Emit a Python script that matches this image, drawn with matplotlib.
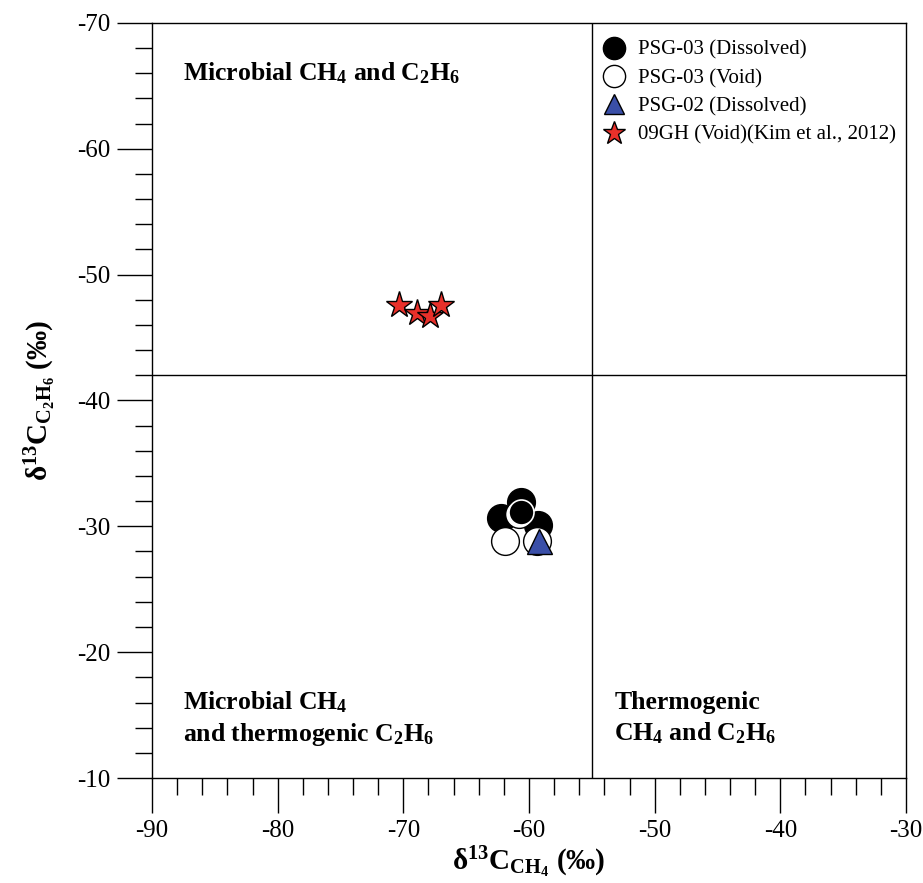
import matplotlib
matplotlib.use("Agg")
import matplotlib.pyplot as plt
from matplotlib.ticker import MultipleLocator
from matplotlib.lines import Line2D

plt.rcParams['font.family'] = ['Liberation Serif', 'DejaVu Serif']
plt.rcParams['mathtext.fontset'] = 'custom'
plt.rcParams['mathtext.rm'] = 'Liberation Serif'
plt.rcParams['mathtext.it'] = 'Liberation Serif:italic'
plt.rcParams['mathtext.bf'] = 'Liberation Serif:bold'
plt.rcParams['axes.unicode_minus'] = False

# Data
psg03_diss_x = [-60.6, -62.2, -59.3, -60.6]
psg03_diss_y = [-31.95, -30.65, -30.1, -31.15]
psg03_void_x = [-61.9, -59.4, -60.8]
psg03_void_y = [-28.8, -28.8, -31.0]
psg02_diss_x = [-59.2]
psg02_diss_y = [-28.8]
gh09_x = [-70.35, -68.9, -67.9, -67.0]
gh09_y = [-47.6, -46.95, -46.7, -47.6]

fig = plt.figure(figsize=(9.23, 8.83), dpi=100)
ax = fig.add_axes([0.1647, 0.1189, 0.8169, 0.8551])

ax.plot(psg03_diss_x[:3], psg03_diss_y[:3], 'o', ms=20, mfc='black', mec='black', mew=1, zorder=3)
ax.plot(psg03_void_x[:2], psg03_void_y[:2], 'o', ms=20, mfc='white', mec='black', mew=1, zorder=4)
ax.plot(psg03_void_x[2:], psg03_void_y[2:], 'o', ms=20, mfc='white', mec='black', mew=1, zorder=4)
ax.plot(psg03_diss_x[3:], psg03_diss_y[3:], 'o', ms=18, mfc='black', mec='white', mew=1.2, zorder=5)
ax.plot(psg02_diss_x, psg02_diss_y, '^', ms=18, mfc='#3a4fa8', mec='black', mew=1, zorder=6)
ax.plot(gh09_x, gh09_y, '*', ms=20, mfc='#e8302a', mec='black', mew=1, zorder=3)

ax.axvline(-55, color='black', lw=1)
ax.axhline(-42, color='black', lw=1)

ax.set_xlim(-90, -30)
ax.set_ylim(-10, -70)
ax.xaxis.set_major_locator(MultipleLocator(10))
ax.xaxis.set_minor_locator(MultipleLocator(2))
ax.yaxis.set_major_locator(MultipleLocator(10))
ax.yaxis.set_minor_locator(MultipleLocator(2))
ax.tick_params(which='major', direction='out', length=25, width=1, labelsize=18, top=False, right=False, pad=5)
ax.tick_params(which='minor', direction='out', length=12, width=1, top=False, right=False)
for s in ax.spines.values():
    s.set_linewidth(1)

ax.set_xlabel(r'$\mathbf{\delta^{13}C_{CH_4}}$ $\mathbf{(‰)}$', fontsize=21, labelpad=2)
ax.set_ylabel(r'$\mathbf{\delta^{13}C_{C_2H_6}}$ $\mathbf{(‰)}$', fontsize=21, labelpad=14)

fs = 18.5
ax.text(-87.5, -66.0, r'Microbial CH$_\mathbf{4}$ and C$_\mathbf{2}$H$_\mathbf{6}$', fontsize=fs,
        fontweight='bold', ha='left', va='center')
ax.text(-87.5, -14.75, 'Microbial CH$_\\mathbf{4}$\nand thermogenic C$_\\mathbf{2}$H$_\\mathbf{6}$', fontsize=fs,
        fontweight='bold', ha='left', va='center', linespacing=1.3)
ax.text(-53.2, -14.75, 'Thermogenic\nCH$_\\mathbf{4}$ and C$_\\mathbf{2}$H$_\\mathbf{6}$', fontsize=fs,
        fontweight='bold', ha='left', va='center', linespacing=1.3)

handles = [
    Line2D([], [], ls='none', marker='o', ms=16, mfc='black', mec='black'),
    Line2D([], [], ls='none', marker='o', ms=16, mfc='white', mec='black'),
    Line2D([], [], ls='none', marker='^', ms=15, mfc='#3a4fa8', mec='black'),
    Line2D([], [], ls='none', marker='*', ms=17, mfc='#e8302a', mec='black'),
]
labels = ['PSG-03 (Dissolved)', 'PSG-03 (Void)', 'PSG-02 (Dissolved)', '09GH (Void)(Kim et al., 2012)']
ax.legend(handles, labels, loc='upper right', frameon=False, fontsize=15,
          handletextpad=0.55, labelspacing=0.42, borderaxespad=0.25, handlelength=1.2,
          bbox_to_anchor=(1.005, 0.995))

fig.savefig('out.png', dpi=100)
